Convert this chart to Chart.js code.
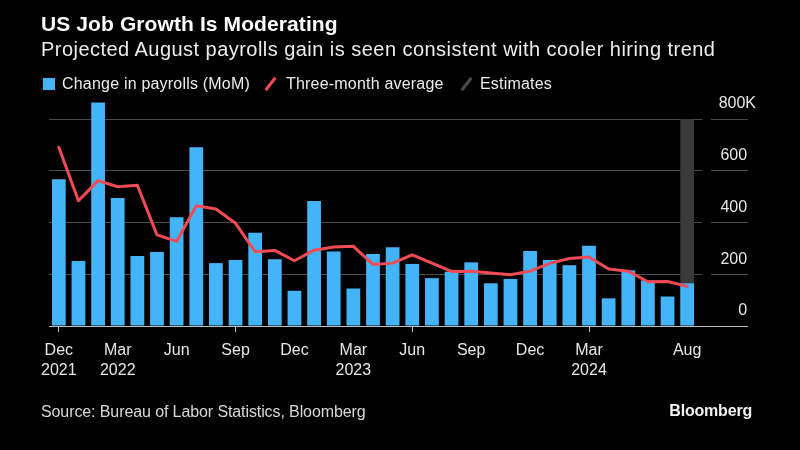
<!DOCTYPE html>
<html>
<head>
<meta charset="utf-8">
<script src="https://cdn.jsdelivr.net/npm/chart.js@4"></script>
<style>
  html, body { margin:0; padding:0; background:#000; }
  #wrap { position:relative; width:800px; height:450px; background:#000; overflow:hidden; font-family:"Liberation Sans", Arial, sans-serif; }
  #wrap canvas { position:absolute; left:0; top:0; }
  .t { position:absolute; white-space:nowrap; }
  #title { left:41px; top:13px; font-size:21px; line-height:21px; font-weight:bold; color:#fff; letter-spacing:0.1px; }
  #subtitle { left:41px; top:39px; font-size:20px; line-height:20px; color:#ececec; letter-spacing:0.46px; }
  .leg { top:75.8px; font-size:16px; line-height:16px; color:#ececec; letter-spacing:0.2px; }
  #sq { position:absolute; left:43px; top:78px; width:12px; height:12px; background:#44b4f8; }
  .slash { position:absolute; top:76px; width:3px; height:16px; transform:rotate(38deg); border-radius:1px; }
  #source { left:41px; top:404px; font-size:16px; line-height:16px; color:#d8d8d8; letter-spacing:-0.1px; }
  #logo { right:48px; top:403px; font-size:16px; line-height:16px; font-weight:bold; color:#f2f2f2; letter-spacing:-0.2px; }
</style>
</head>
<body>
<div id="wrap">
  <canvas id="c" width="800" height="450"></canvas>
  <div class="t" id="title">US Job Growth Is Moderating</div>
  <div class="t" id="subtitle">Projected August payrolls gain is seen consistent with cooler hiring trend</div>
  <div id="sq"></div>
  <div class="t leg" style="left:62px">Change in payrolls (MoM)</div>
  <div class="slash" style="left:269px; background:#f24b55;"></div>
  <div class="t leg" style="left:286px">Three-month average</div>
  <div class="slash" style="left:465px; background:#4a4a4a;"></div>
  <div class="t leg" style="left:480px">Estimates</div>
  <div class="t" id="source">Source: Bureau of Labor Statistics, Bloomberg</div>
  <div class="t" id="logo">Bloomberg</div>
</div>
<script>
const categories = [
  'Dec 2021',
  'Jan 2022','Feb 2022','Mar 2022','Apr 2022','May 2022','Jun 2022','Jul 2022','Aug 2022','Sep 2022','Oct 2022','Nov 2022','Dec 2022',
  'Jan 2023','Feb 2023','Mar 2023','Apr 2023','May 2023','Jun 2023','Jul 2023','Aug 2023','Sep 2023','Oct 2023','Nov 2023','Dec 2023',
  'Jan 2024','Feb 2024','Mar 2024','Apr 2024','May 2024','Jun 2024','Jul 2024','Aug 2024'
];
const payrolls = [
  567,
  251, 864, 495, 271, 286, 420, 691, 243, 255, 360, 258, 136,
  483, 288, 145, 278, 304, 240, 185, 210, 246, 165, 182, 290,
  255, 235, 310, 107, 215, 176, 114, 165
];
const threeMonthAvg = [
  691,
  484, 562, 538, 544, 352, 327, 465, 452, 397, 287, 292, 252,
  293, 305, 308, 238, 243, 275, 243, 211, 212, 205, 198, 212,
  242, 261, 267, 220, 212, 171, 172, 153
];
const estimates = [
  null,
  null, null, null, null, null, null, null, null, null, null, null, null,
  null, null, null, null, null, null, null, null, null, null, null, null,
  null, null, null, null, null, null, null, 800
];
const xTickLabels = [
  ['Dec','2021'],
  null, null, ['Mar','2022'], null, null, ['Jun'], null, null, ['Sep'], null, null, ['Dec'],
  null, null, ['Mar','2023'], null, null, ['Jun'], null, null, ['Sep'], null, null, ['Dec'],
  null, null, ['Mar','2024'], null, null, null, null, ['Aug']
];
const yTickValues = [0, 200, 400, 600, 800];
const yTickLabels = ['0  ', '200  ', '400  ', '600  ', '800K'];

const fontFamily = '"Liberation Sans", Arial, sans-serif';

new Chart(document.getElementById('c'), {
  type: 'bar',
  data: {
    labels: categories,
    datasets: [
      {
        type: 'line',
        label: 'Three-month average',
        data: threeMonthAvg,
        borderColor: '#f24b55',
        borderWidth: 3,
        pointRadius: 0,
        tension: 0,
        borderJoinStyle: 'round',
        borderCapStyle: 'round',
        clip: false,
        order: 0
      },
      {
        label: 'Change in payrolls (MoM)',
        data: payrolls,
        backgroundColor: '#44b4f8',
        grouped: false,
        categoryPercentage: 0.7,
        barPercentage: 1.0,
        clip: false,
        order: 1
      },
      {
        label: 'Estimates',
        data: estimates,
        backgroundColor: '#3a3a3a',
        grouped: false,
        categoryPercentage: 0.7,
        barPercentage: 1.0,
        order: 2
      }
    ]
  },
  options: {
    responsive: false,
    animation: false,
    layout: { padding: { left: 49, right: 42, top: 119, bottom: 64 } },
    plugins: { legend: { display: false }, tooltip: { enabled: false } },
    scales: {
      x: {
        offset: true,
        border: { display: false },
        grid: {
          display: true,
          offset: false,
          drawOnChartArea: false,
          drawTicks: true,
          tickLength: 6,
          tickWidth: 1,
          tickColor: (ctx) => (xTickLabels[ctx.index] ? '#bdbdbd' : 'rgba(0,0,0,0)')
        },
        ticks: {
          autoSkip: false,
          maxRotation: 0,
          minRotation: 0,
          padding: 9,
          color: '#e6e6e6',
          font: { family: fontFamily, size: 16, lineHeight: 1.25 },
          callback: (value, index) => xTickLabels[index]
        },
        afterFit: (s) => { s.height = 60; }
      },
      y: {
        position: 'right',
        min: 0,
        max: 800,
        border: { display: false },
        afterBuildTicks: (s) => { s.ticks = yTickValues.map(v => ({ value: v })); },
        grid: {
          color: (ctx) => (ctx.tick && ctx.tick.value === 0 ? '#bdbdbd' : '#4a4a4a'),
          lineWidth: 1,
          drawTicks: true,
          tickLength: 51,
          tickColor: (ctx) => (ctx.tick && ctx.tick.value === 0 ? '#bdbdbd' : '#4a4a4a'),
          tickBorderDash: (ctx) => (ctx.tick && ctx.tick.value === 0 ? [] : [5, 9, 80, 0])
        },
        ticks: {
          mirror: true,
          padding: 59,
          labelOffset: -15,
          color: '#e6e6e6',
          font: { family: fontFamily, size: 16 },
          callback: (value) => yTickLabels[yTickValues.indexOf(value)]
        },
        afterFit: (s) => { s.width = 61; }
      }
    }
  }
});
</script>
</body>
</html>
